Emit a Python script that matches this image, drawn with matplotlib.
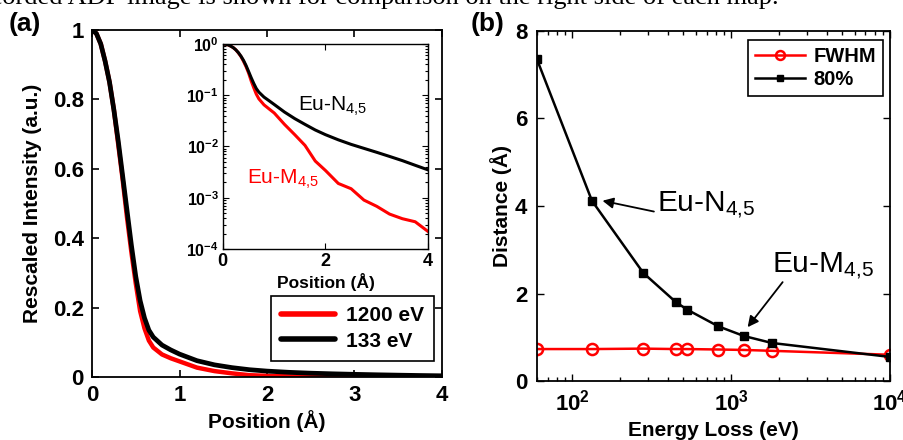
import numpy as np
import matplotlib
matplotlib.use("Agg")
import matplotlib.pyplot as plt
from matplotlib.ticker import LogLocator, NullFormatter

plt.rcParams['font.family'] = ['Liberation Sans', 'DejaVu Sans']
plt.rcParams['mathtext.fontset'] = 'custom'
plt.rcParams['mathtext.rm'] = 'Liberation Sans'
plt.rcParams['mathtext.bf'] = 'Liberation Sans:bold'
plt.rcParams['mathtext.default'] = 'regular'

# ---- panel (a) data: rescaled intensity profiles ----
position = [0.0, 0.05, 0.1, 0.15, 0.2, 0.25, 0.3, 0.35, 0.4, 0.45, 0.5, 0.55, 0.6,
            0.65, 0.7, 0.8, 0.9, 1.0, 1.2, 1.4, 1.6, 1.8, 2.0, 2.25, 2.5, 2.75,
            3.0, 3.25, 3.5, 3.75, 4.0]
int_133 = [1.0, 0.99, 0.96, 0.91, 0.85, 0.77, 0.68, 0.58, 0.48, 0.38, 0.29, 0.22, 0.17,
           0.135, 0.115, 0.092, 0.078, 0.066, 0.047, 0.035, 0.027, 0.021, 0.017, 0.0135,
           0.011, 0.0092, 0.0077, 0.0064, 0.0053, 0.0043, 0.0035]
int_1200 = [1.0, 0.99, 0.96, 0.91, 0.85, 0.77, 0.67, 0.57, 0.46, 0.36, 0.27, 0.19, 0.14,
            0.105, 0.085, 0.065, 0.054, 0.045, 0.027, 0.017, 0.0105, 0.0052, 0.0034,
            0.0019, 0.0015, 0.0009, 0.00068, 0.00048, 0.00039, 0.00034, 0.00022]
legend_a = ['1200 eV', '133 eV']

# ---- panel (b) data: distance vs energy loss ----
energy = [60, 133, 280, 450, 530, 830, 1200, 1800, 10000]
fwhm = [0.73, 0.73, 0.74, 0.73, 0.73, 0.72, 0.71, 0.69, 0.60]
d80 = [7.35, 4.12, 2.47, 1.80, 1.63, 1.25, 1.03, 0.87, 0.55]
legend_b = ['FWHM', '80%']

W, H = 904, 440
fig = plt.figure(figsize=(W / 100, H / 100), dpi=100)

def fx(px):
    return px / W

def fy(py):
    return 1 - py / H

# cropped caption line at the top
fig.text(fx(-30), fy(4), "recorded ADF image is shown for comparison on the right side of each map.",
         family=['Liberation Serif'], fontsize=19, va='baseline', ha='left')

# ---------------- panel (a) ----------------
axa = fig.add_axes([fx(92), fy(377), fx(442) - fx(92), fy(30) - fy(377)])
axa.plot(position, int_1200, color='#ff0000', lw=3.2, label=legend_a[0], solid_capstyle='round')
axa.plot(position, int_133, color='black', lw=3.4, label=legend_a[1], solid_capstyle='round')
axa.set_xlim(0, 4)
axa.set_ylim(0, 1)
axa.set_xticks([0, 1, 2, 3, 4])
axa.set_xticklabels(['0', '1', '2', '3', '4'])
axa.set_yticks([0, 0.2, 0.4, 0.6, 0.8, 1])
axa.set_yticklabels(['0', '0.2', '0.4', '0.6', '0.8', '1'])
axa.tick_params(direction='in', top=True, right=True, length=5, width=1.2,
                labelsize=16, pad=6)
for lab in axa.get_xticklabels() + axa.get_yticklabels():
    lab.set_fontweight('bold')
for s in axa.spines.values():
    s.set_linewidth(1.3)
axa.set_xlabel('Position (Å)', fontsize=15, fontweight='bold', labelpad=3)
axa.set_ylabel('Rescaled Intensity (a.u.)', fontsize=15, fontweight='bold', labelpad=8)
leg = axa.legend(loc='lower right', bbox_to_anchor=(fx(434), fy(361)),
                 bbox_transform=fig.transFigure, fancybox=False, framealpha=1,
                 edgecolor='black', fontsize=15, handlelength=2.6, borderpad=0.5,
                 labelspacing=0.3, handletextpad=0.5, borderaxespad=0)
leg.get_frame().set_linewidth(1.2)
for t in leg.get_texts():
    t.set_fontweight('bold')
for l in leg.get_lines():
    l.set_linewidth(4)

# inset
axi = fig.add_axes([fx(223), fy(249), fx(428) - fx(223), fy(44) - fy(249)])
axi.semilogy(position, int_1200, color='#ff0000', lw=2.2)
axi.semilogy(position, int_133, color='black', lw=2.2)
axi.set_xlim(0, 4)
axi.set_ylim(1e-4, 1)
axi.set_xticks([0, 2, 4])
axi.set_xticklabels([r'$\mathbf{0}$', r'$\mathbf{2}$', r'$\mathbf{4}$'])
axi.set_yticks([1e-4, 1e-3, 1e-2, 1e-1, 1])
axi.set_yticklabels([r'$\mathbf{10^{-4}}$', r'$\mathbf{10^{-3}}$', r'$\mathbf{10^{-2}}$',
                     r'$\mathbf{10^{-1}}$', r'$\mathbf{10^{0}}$'])
axi.yaxis.set_minor_locator(LogLocator(base=10, subs=np.arange(2, 10)))
axi.yaxis.set_minor_formatter(NullFormatter())
axi.tick_params(which='both', direction='in', top=True, right=True, width=0.8)
axi.tick_params(which='major', length=4)
axi.tick_params(which='minor', length=2)
axi.tick_params(axis='x', labelsize=13, pad=3)
axi.tick_params(axis='y', labelsize=11.5, pad=3)
for s in axi.spines.values():
    s.set_linewidth(1.0)
axi.set_xlabel('Position (Å)', fontsize=12.5, fontweight='bold', labelpad=2)
axi.text(1.46, 0.051, r'Eu-N$_{4{,}5}$', fontsize=15, color='black', va='baseline')
axi.text(0.47, 0.0019, r'Eu-M$_{4{,}5}$', fontsize=15, color='#ff0000', va='baseline')

fig.text(fx(9), fy(24), '(a)', fontsize=19, fontweight='bold', va='center', ha='left')

# ---------------- panel (b) ----------------
axb = fig.add_axes([fx(537), fy(381), fx(890) - fx(537), fy(31) - fy(381)])
axb.semilogx(energy, fwhm, color='#ff0000', lw=1.8, marker='o', ms=8, mfc='none',
             mec='#ff0000', mew=1.8, label=legend_b[0])
axb.semilogx(energy, d80, color='black', lw=1.8, marker='s', ms=6, mfc='black',
             mec='black', label=legend_b[1])
axb.set_xlim(60, 1e4)
axb.set_ylim(0, 8)
axb.set_yticks([0, 2, 4, 6, 8])
axb.set_yticklabels([r'$\mathbf{0}$', r'$\mathbf{2}$', r'$\mathbf{4}$', r'$\mathbf{6}$', r'$\mathbf{8}$'])
axb.set_xticks([1e2, 1e3, 1e4])
axb.set_xticklabels([r'$\mathbf{10^{2}}$', r'$\mathbf{10^{3}}$', r'$\mathbf{10^{4}}$'])
axb.xaxis.set_minor_locator(LogLocator(base=10, subs=np.arange(2, 10)))
axb.xaxis.set_minor_formatter(NullFormatter())
axb.tick_params(which='both', direction='in', top=True, right=True, width=1.0)
axb.tick_params(which='major', length=5, labelsize=16, pad=6)
axb.tick_params(which='minor', length=3)
for s in axb.spines.values():
    s.set_linewidth(1.3)
axb.set_xlabel('Energy Loss (eV)', fontsize=15, fontweight='bold', labelpad=4)
axb.set_ylabel('Distance (Å)', fontsize=15, fontweight='bold', labelpad=2)
legb = axb.legend(loc='upper right', bbox_to_anchor=(fx(883), fy(40)),
                  bbox_transform=fig.transFigure, fancybox=False, framealpha=1,
                  edgecolor='black', fontsize=14.5, handlelength=2.5, borderpad=0.35,
                  labelspacing=0.2, handletextpad=0.4, borderaxespad=0, markerscale=0.8)
legb.get_frame().set_linewidth(1.2)
for t in legb.get_texts():
    t.set_fontweight('bold')

axb.annotate(r'Eu-N$_{4{,}5}$', xy=(155, 4.12), xytext=(340, 3.86), fontsize=21.5,
             va='baseline', ha='left',
             arrowprops=dict(arrowstyle='-|>', color='black', lw=1.3,
                             mutation_scale=16, shrinkA=0, shrinkB=0,
                             relpos=(0, 0.3)))
axb.text(1800, 2.47, r'Eu-M$_{4{,}5}$', fontsize=21.5, va='baseline', ha='left')
axb.annotate('', xy=(1270, 1.23), xytext=(2110, 2.26),
             arrowprops=dict(arrowstyle='-|>', color='black', lw=1.3,
                             mutation_scale=16, shrinkA=0, shrinkB=0))

fig.text(fx(471), fy(24), '(b)', fontsize=19, fontweight='bold', va='center', ha='left')

fig.savefig('out.png', dpi=100)
